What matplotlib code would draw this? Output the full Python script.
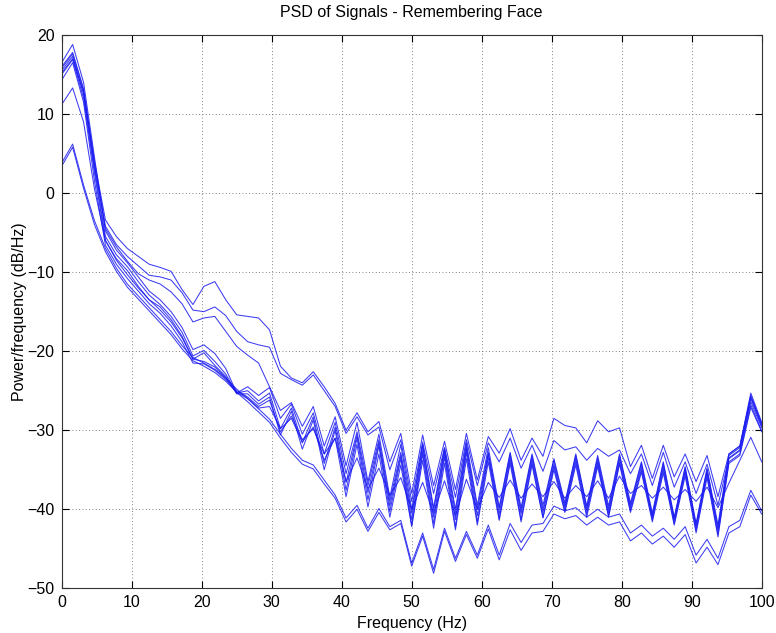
import matplotlib
matplotlib.use("Agg")
import matplotlib.pyplot as plt

freqs = [0, 1.5625, 3.125, 4.6875, 6.25, 7.8125, 9.375, 10.9375, 12.5, 14.0625,
         15.625, 17.1875, 18.75, 20.3125, 21.875, 23.4375, 25, 26.5625, 28.125, 29.6875,
         31.25, 32.8125, 34.375, 35.9375, 37.5, 39.0625, 40.625, 42.1875, 43.75, 45.3125,
         46.875, 48.4375, 50, 51.5625, 53.125, 54.6875, 56.25, 57.8125, 59.375, 60.9375,
         62.5, 64.0625, 65.625, 67.1875, 68.75, 70.3125, 71.875, 73.4375, 75, 76.5625,
         78.125, 79.6875, 81.25, 82.8125, 84.375, 85.9375, 87.5, 89.0625, 90.625, 92.1875,
         93.75, 95.3125, 96.875, 98.4375, 100]

psd_a1 = [15.8, 17.6, 13.0, 4.0, -3.4, -5.5, -7.0, -8.0,
          -9.0, -9.4, -9.9, -12.2, -14.1, -11.8, -11.2, -13.5,
          -15.4, -15.6, -15.8, -17.3, -21.9, -23.4, -24.0, -22.6,
          -24.5, -26.6, -30.0, -27.8, -30.2, -28.9, -34.0, -30.4,
          -38.0, -30.6, -37.0, -31.4, -37.5, -30.4, -36.3, -30.8,
          -32.9, -29.8, -33.8, -31.0, -33.3, -28.5, -29.4, -29.7,
          -31.6, -28.8, -30.2, -29.7, -34.6, -31.9, -36.1, -31.9,
          -35.9, -33.0, -36.5, -33.2, -38.4, -33.0, -32.0, -25.3,
          -29.0]

psd_a2 = [15.2, 17.0, 12.6, 3.5, -4.2, -6.5, -8.0, -9.2,
          -10.4, -10.6, -11.0, -12.6, -14.8, -15.0, -14.4, -15.5,
          -17.5, -18.8, -19.2, -19.5, -22.8, -23.6, -24.3, -23.0,
          -25.0, -27.0, -30.4, -28.3, -30.6, -29.6, -35.0, -31.2,
          -39.0, -31.5, -38.0, -32.2, -38.5, -31.2, -37.0, -31.6,
          -34.0, -31.0, -34.8, -31.9, -35.2, -31.3, -32.5, -32.1,
          -33.8, -32.3, -33.3, -32.5, -35.5, -33.0, -37.0, -32.8,
          -37.2, -34.0, -38.0, -34.3, -39.5, -33.5, -32.5, -26.0,
          -29.5]

psd_c = [16.0, 17.8, 13.2, 3.5, -4.5, -6.8, -8.6, -10.2,
         -11.0, -11.5, -12.5, -14.0, -16.3, -15.8, -15.6, -17.5,
         -19.4, -20.5, -21.5, -24.5, -27.5, -26.5, -29.5, -27.0,
         -32.0, -28.3, -34.5, -29.0, -36.5, -30.5, -38.5, -31.8,
         -40.0, -31.8, -39.8, -32.3, -40.0, -31.6, -39.5, -32.2,
         -39.7, -32.8, -39.8, -33.0, -39.5, -33.6, -39.2, -33.0,
         -39.6, -33.2, -39.6, -33.0, -39.2, -34.0, -40.5, -34.0,
         -41.0, -34.6, -41.8, -34.8, -42.0, -33.0, -32.0, -25.8,
         -29.3]

psd_m1 = [16.5, 18.8, 14.0, 4.5, -4.8, -7.2, -8.8, -10.6,
          -12.4, -13.5, -15.0, -17.0, -19.8, -19.2, -20.3, -22.2,
          -25.3, -24.5, -25.6, -24.6, -28.5, -26.7, -30.5, -27.8,
          -33.0, -29.0, -35.5, -30.2, -37.0, -31.2, -39.0, -32.8,
          -40.5, -32.0, -40.2, -32.6, -40.5, -32.0, -40.0, -32.8,
          -40.0, -33.0, -40.2, -33.2, -40.0, -33.8, -39.5, -33.2,
          -39.8, -33.5, -40.0, -33.2, -39.5, -34.2, -40.8, -34.2,
          -41.2, -34.8, -42.0, -35.0, -42.4, -33.2, -32.2, -25.6,
          -29.2]

psd_m2 = [15.5, 17.3, 12.6, 3.0, -5.5, -7.8, -9.3, -11.2,
          -12.9, -14.1, -15.6, -17.6, -20.6, -19.9, -21.3, -22.9,
          -25.3, -25.0, -26.3, -25.3, -29.8, -27.2, -31.6, -28.3,
          -34.2, -29.6, -36.6, -30.6, -37.9, -31.6, -39.6, -33.2,
          -41.3, -32.6, -41.0, -33.0, -41.3, -32.4, -40.8, -33.0,
          -40.6, -33.4, -40.6, -33.6, -40.4, -34.3, -39.8, -33.6,
          -40.2, -33.9, -40.4, -33.6, -39.8, -34.6, -41.0, -34.6,
          -41.4, -35.1, -42.3, -35.3, -42.7, -33.6, -32.6, -26.4,
          -29.7]

psd_m3 = [15.0, 16.9, 12.0, 2.5, -6.0, -8.3, -9.8, -11.8,
          -13.5, -14.4, -16.0, -18.1, -21.0, -20.2, -21.8, -23.2,
          -25.4, -25.4, -26.7, -25.8, -30.6, -27.6, -32.4, -28.7,
          -35.0, -30.0, -37.6, -31.0, -38.8, -32.0, -40.3, -33.6,
          -42.0, -33.0, -41.8, -33.4, -42.2, -32.8, -41.6, -33.4,
          -41.2, -33.8, -41.3, -34.0, -41.0, -34.6, -40.2, -34.0,
          -40.6, -34.2, -40.8, -34.0, -40.2, -35.0, -41.3, -35.0,
          -41.8, -35.4, -42.7, -35.6, -43.2, -34.0, -33.0, -26.8,
          -30.1]

psd_m4 = [14.3, 16.5, 11.5, 1.5, -6.6, -9.0, -10.8, -12.4,
          -14.0, -15.2, -16.8, -18.8, -21.5, -21.6, -22.4, -23.6,
          -25.2, -26.0, -27.2, -27.0, -29.8, -28.5, -31.5, -29.6,
          -33.8, -31.0, -38.4, -31.8, -39.7, -33.0, -41.0, -34.4,
          -42.2, -33.8, -42.4, -34.2, -42.6, -33.6, -42.0, -34.0,
          -41.4, -34.2, -41.6, -34.4, -41.1, -35.0, -40.4, -34.4,
          -41.0, -34.6, -41.0, -34.3, -40.4, -35.3, -41.6, -35.4,
          -42.0, -35.8, -43.0, -36.0, -43.5, -34.2, -33.2, -27.1,
          -30.2]

psd_lm = [11.2, 13.3, 9.0, 0.5, -6.0, -8.5, -10.3, -12.0,
          -13.5, -14.8, -16.3, -18.3, -21.0, -21.3, -22.0, -23.4,
          -25.0, -25.8, -27.0, -26.2, -30.2, -28.2, -31.2, -29.8,
          -33.0, -31.0, -36.5, -33.5, -37.4, -34.8, -38.2, -36.0,
          -40.0, -36.6, -40.5, -36.4, -40.8, -36.2, -40.0, -36.6,
          -38.5, -36.3, -38.6, -36.8, -38.4, -36.5, -38.6, -37.0,
          -38.4, -36.4, -38.6, -35.8, -38.0, -37.0, -38.6, -37.2,
          -38.8, -37.5, -39.0, -37.2, -39.8, -36.7, -33.8, -30.9,
          -34.0]

psd_b1 = [3.8, 6.2, 1.0, -3.5, -7.0, -9.5, -11.5, -13.0,
          -14.5, -16.0, -17.5, -19.3, -20.8, -21.5, -22.3, -23.4,
          -24.8, -26.0, -27.3, -28.6, -30.5, -32.3, -33.8, -34.4,
          -36.3, -38.2, -41.1, -39.5, -42.4, -39.9, -42.2, -41.4,
          -46.8, -43.0, -47.6, -42.4, -46.2, -42.8, -45.8, -42.0,
          -45.8, -41.8, -44.2, -42.0, -41.8, -39.6, -40.2, -39.8,
          -41.0, -40.0, -41.0, -40.6, -43.0, -42.0, -43.4, -42.4,
          -43.8, -42.2, -45.8, -43.8, -46.2, -42.2, -41.4, -37.6,
          -40.2]

psd_b2 = [3.4, 5.8, 0.6, -4.0, -7.4, -9.9, -11.9, -13.4,
          -14.9, -16.4, -17.9, -19.7, -21.2, -21.9, -22.7, -23.8,
          -25.2, -26.4, -27.7, -29.0, -31.0, -32.8, -34.3, -34.9,
          -36.8, -38.6, -41.6, -40.0, -42.8, -40.4, -42.6, -41.8,
          -47.2, -43.4, -48.1, -42.8, -46.6, -43.2, -46.2, -42.5,
          -46.4, -42.6, -45.2, -43.0, -42.8, -40.6, -41.2, -40.8,
          -42.0, -41.0, -42.0, -41.6, -44.0, -43.0, -44.4, -43.4,
          -44.8, -43.2, -46.8, -44.8, -47.0, -43.0, -42.2, -38.2,
          -40.6]

series = [psd_a1, psd_a2, psd_c, psd_m1, psd_m2, psd_m3, psd_m4, psd_lm, psd_b1, psd_b2]

xticks = [0, 10, 20, 30, 40, 50, 60, 70, 80, 90, 100]
yticks = [-50, -40, -30, -20, -10, 0, 10, 20]

plt.rcParams['font.family'] = ['Liberation Sans', 'DejaVu Sans']
fig = plt.figure(figsize=(7.76, 6.33), dpi=100)
ax = fig.add_axes([0.0795, 0.0706, 0.9021, 0.8741])

for s in series:
    ax.plot(freqs, s, color=(0.1, 0.1, 0.95), linewidth=0.75, alpha=0.85)

ax.set_xlim(0, 100)
ax.set_ylim(-50, 20)
ax.set_xticks(xticks)
ax.set_yticks(yticks)
ax.grid(True, linestyle=(0, (1, 3)), color='0.35', linewidth=0.6)
ax.set_axisbelow(True)
ax.tick_params(direction='in', length=5, width=0.8, top=True, right=True,
               labelsize=11.5, pad=5, colors='black')
for sp in ax.spines.values():
    sp.set_linewidth(0.8)
    sp.set_color('0.2')

ax.set_title('PSD of Signals - Remembering Face', fontsize=11.5, pad=13)
ax.set_xlabel('Frequency (Hz)', fontsize=11.5, labelpad=4)
ax.set_ylabel('Power/frequency (dB/Hz)', fontsize=11.5, labelpad=0)

fig.savefig('out.png', dpi=100)
